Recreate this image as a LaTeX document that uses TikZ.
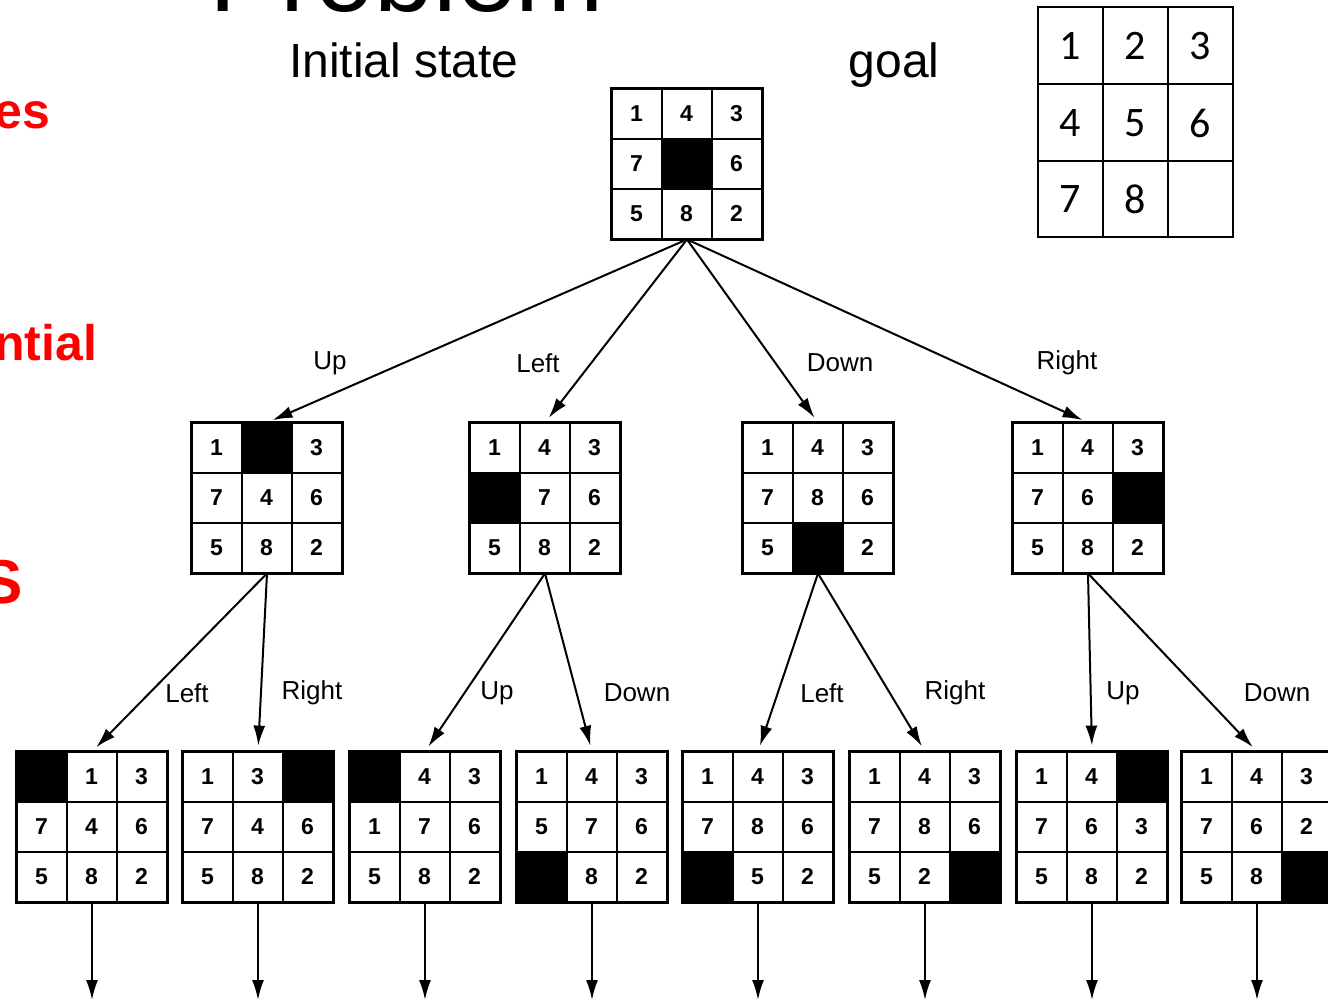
\documentclass[tikz,border=0pt]{standalone}
\usepackage{fontspec}
\setmainfont{Liberation Sans}
\newfontfamily\goalfont{Carlito}
\usetikzlibrary{arrows.meta}

\tikzset{
  board/.style = {minimum size=75pt, inner sep=0pt},
  frame/.style = {line width=1.5pt},
  tile/.style = {inner sep=0pt, font=\bfseries\fontsize{11.5}{12}\selectfont},
  move/.style = {line width=1pt, -{Latex[length=10pt,width=6pt]}, shorten >=3pt},
  lbl/.style = {font=\fontsize{13}{14}\selectfont},
  head/.style = {anchor=base, font=\fontsize{24}{28}\selectfont},
  note/.style = {text=red, font=\bfseries\fontsize{25}{27}\selectfont, anchor=base east},
  goalcell/.style = {font=\goalfont\fontsize{21}{24}\selectfont}
}

% name, centre, tiles row by row (0 = blank)
\newcommand{\puzzle}[3]{%
  \node[board] (#1) at (#2) {};
  \begin{scope}[shift={(#1.north west)}]
    \foreach \t [count=\i from 0] in {#3} {
      \pgfmathtruncatemacro{\cc}{mod(\i,3)}
      \pgfmathtruncatemacro{\rr}{div(\i,3)}
      \ifnum\t=0
        \fill (\cc*50,\rr*50) rectangle ++(50,50);
      \else
        \node[tile] (#1-\i) at (\cc*50+25,\rr*50+25) {\t};
      \fi
    }
    \draw[line width=1pt] (50,0) -- (50,150) (100,0) -- (100,150)
      (0,50) -- (150,50) (0,100) -- (150,100);
  \end{scope}
  \draw[frame] (#1.north west) rectangle (#1.south east);
}

\begin{document}
\begin{tikzpicture}[x=0.5pt, y=-0.5pt]
  \useasboundingbox (0,0) rectangle (1328,1002);
  % headings
  \node[anchor=base, font=\fontsize{53}{60}\selectfont] (title) at (407,11) {Problem};
  \node[head] (init) at (404,77) {Initial state};
  \node[head] (goal) at (894,77) {goal};
  \node[note] (n1) at (57,128) {es};
  \node[note] (n2) at (104,360) {ential};
  \node[note, font=\bfseries\fontsize{31}{34}\selectfont] (n3) at (30,603) {S};
  % goal grid
  \draw[line width=1.2pt] (1038,7) rectangle (1233,237)
    (1103,7) -- (1103,237) (1168,7) -- (1168,237)
    (1038,84) -- (1233,84) (1038,161) -- (1233,161);
  \node[goalcell] (g1) at (1070,46) {1};
  \node[goalcell] (g2) at (1135,46) {2};
  \node[goalcell] (g3) at (1200,46) {3};
  \node[goalcell] (g4) at (1070,123) {4};
  \node[goalcell] (g5) at (1135,123) {5};
  \node[goalcell] (g6) at (1200,123) {6};
  \node[goalcell] (g7) at (1070,199) {7};
  \node[goalcell] (g8) at (1135,199) {8};
  % search tree
  \puzzle{r}{687,164}{1,4,3,7,0,6,5,8,2}
  \puzzle{a1}{267,498}{1,0,3,7,4,6,5,8,2}
  \puzzle{a2}{545,498}{1,4,3,0,7,6,5,8,2}
  \puzzle{a3}{818,498}{1,4,3,7,8,6,5,0,2}
  \puzzle{a4}{1088,498}{1,4,3,7,6,0,5,8,2}
  \puzzle{b1}{92,827}{0,1,3,7,4,6,5,8,2}
  \puzzle{b2}{258,827}{1,3,0,7,4,6,5,8,2}
  \puzzle{b3}{425,827}{0,4,3,1,7,6,5,8,2}
  \puzzle{b4}{592,827}{1,4,3,5,7,6,0,8,2}
  \puzzle{b5}{758,827}{1,4,3,7,8,6,0,5,2}
  \puzzle{b6}{925,827}{1,4,3,7,8,6,5,2,0}
  \puzzle{b7}{1092,827}{1,4,0,7,6,3,5,8,2}
  \puzzle{b8}{1257,827}{1,4,3,7,6,2,5,8,0}
  % moves
  \draw[move] (r.south) -- (a1.north) node[lbl] (m1) at (330,363) {Up};
  \draw[move] (r.south) -- (a2.north) node[lbl] (m2) at (538,363) {Left};
  \draw[move] (r.south) -- (a3.north) node[lbl] (m3) at (840,363) {Down};
  \draw[move] (r.south) -- (a4.north) node[lbl] (m4) at (1067,363) {Right};
  \draw[move] (a1.south) -- (b1.north) node[lbl] (m5) at (187,693) {Left};
  \draw[move] (a1.south) -- (b2.north) node[lbl] (m6) at (312,693) {Right};
  \draw[move] (a2.south) -- (b3.north) node[lbl] (m7) at (497,693) {Up};
  \draw[move] (a2.south) -- (b4.north) node[lbl] (m8) at (637,693) {Down};
  \draw[move] (a3.south) -- (b5.north) node[lbl] (m9) at (822,693) {Left};
  \draw[move] (a3.south) -- (b6.north) node[lbl] (m10) at (955,693) {Right};
  \draw[move] (a4.south) -- (b7.north) node[lbl] (m11) at (1123,693) {Up};
  \draw[move] (a4.south) -- (b8.north) node[lbl] (m12) at (1277,693) {Down};
  \foreach \b/\x in {b1/92,b2/258,b3/425,b4/592,b5/758,b6/925,b7/1092,b8/1257} {
    \coordinate (\b-end) at (\x,1000);
    \draw[move, shorten >=0pt] (\b.south) -- (\b-end);
  }
\end{tikzpicture}
\end{document}
